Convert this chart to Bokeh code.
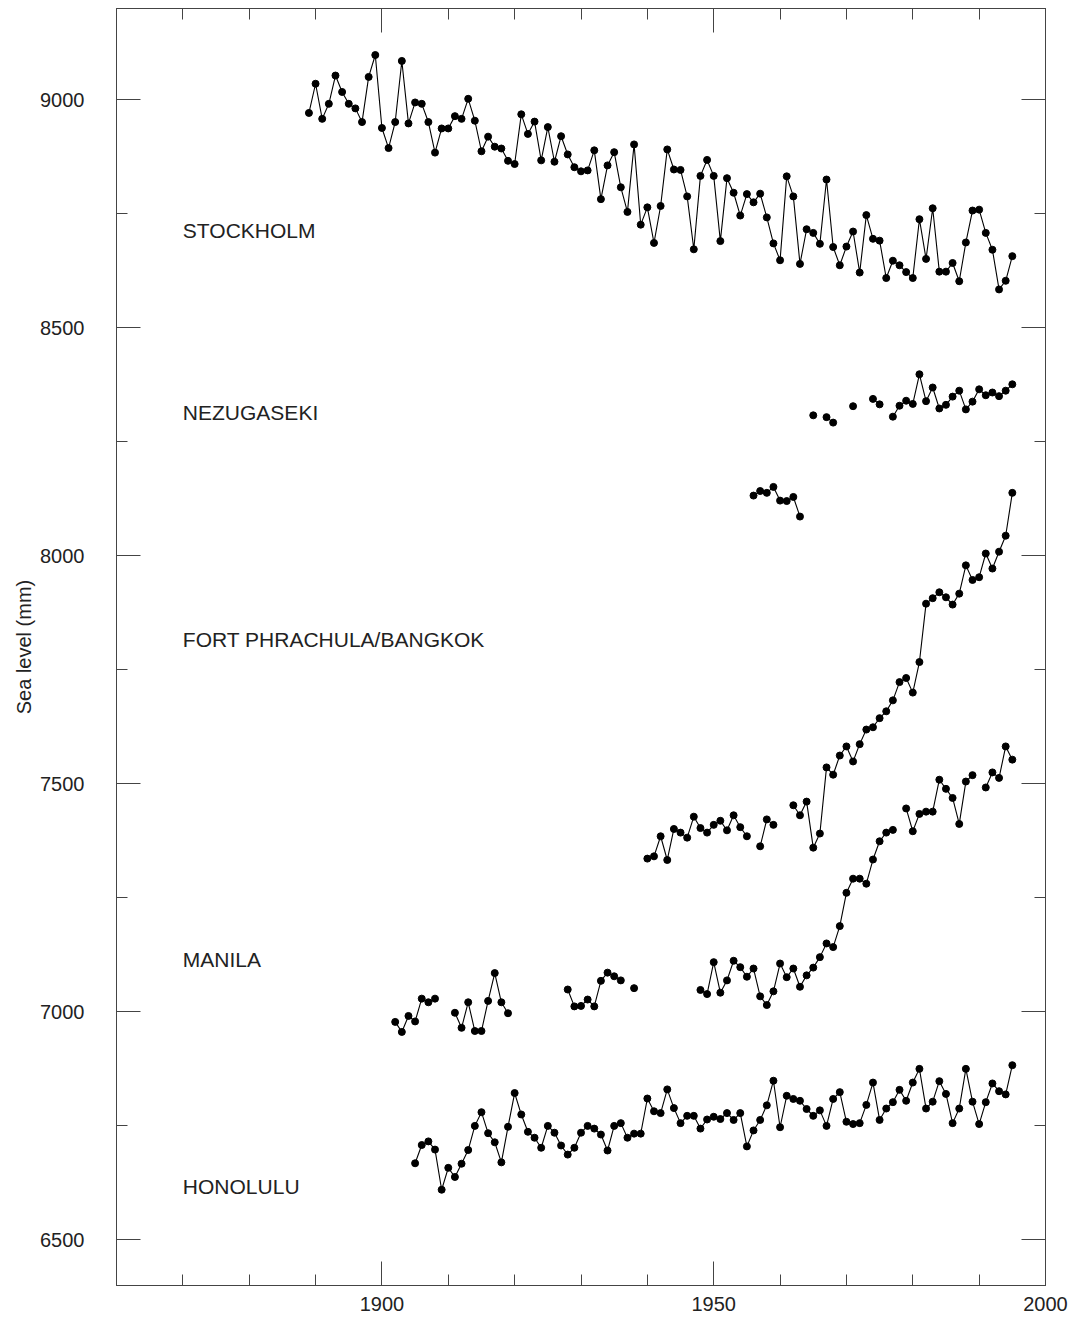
import math
from bokeh.plotting import figure
from bokeh.models import Range1d, LinearAxis, SingleIntervalTicker, ColumnDataSource
from bokeh.embed import file_html
from bokeh.resources import INLINE
from bokeh.core.properties import value

# ---------------- data (annual mean sea level, mm) ----------------
stockholm_start = 1889
stockholm_mm = [
    8971, 9035, 8958, 8991, 9053, 9017, 8991, 8981, 8951, 9050,
    9098, 8938, 8894, 8951, 9085, 8948, 8994, 8991, 8951, 8884,
    8937, 8937, 8964, 8958, 9002, 8954, 8887, 8919, 8897, 8893,
    8866, 8859, 8968, 8925, 8952, 8867, 8940, 8864, 8920, 8880,
    8852, 8843, 8845, 8889, 8782, 8856, 8885, 8808, 8754, 8902,
    8726, 8764, 8686, 8767, 8891, 8847, 8846, 8788, 8672, 8833,
    8868, 8833, 8690, 8828, 8796, 8746, 8793, 8775, 8794, 8742,
    8685, 8648, 8832, 8788, 8640, 8716, 8708, 8684, 8825, 8677,
    8637, 8678, 8711, 8621, 8747, 8695, 8691, 8609, 8647, 8637,
    8622, 8609, 8738, 8651, 8762, 8623, 8623, 8642, 8602, 8687,
    8757, 8759, 8708, 8671, 8584, 8603, 8657,
]

nezugaseki_start = 1965
nezugaseki_mm = [
    8308, None, 8304, 8292, None, None, 8328, None, None, 8344,
    8332, None, 8305, 8329, 8340, 8333, 8398, 8339, 8369, 8323,
    8331, 8349, 8362, 8321, 8338, 8365, 8352, 8358, 8350, 8362,
    8376,
]

fort_phrachula_start = 1956
fort_phrachula_mm = [8132, 8142, 8138, 8151, 8121, 8120, 8129, 8086]

bangkok_start = 1940
bangkok_mm = [
    7336, 7341, 7385, 7333, 7401, 7393, 7382, 7428, 7403, 7393,
    7410, 7419, 7398, 7431, 7405, 7385, None, 7363, 7422, 7410,
    None, None, 7453, 7431, 7461, 7360, 7391, 7536, 7520, 7562,
    7582, 7549, 7587, 7619, 7624, 7644, 7659, 7683, 7723, 7732,
    7700, 7767, 7895, 7907, 7920, 7909, 7893, 7917, 7979, 7947,
    7953, 8005, 7972, 8009, 8044, 8138,
]

manila_start = 1902
manila_mm = [
    6978, 6956, 6991, 6979, 7029, 7021, 7029, None, None, 6998,
    6965, 7021, 6958, 6958, 7024, 7085, 7021, 6997, None, None,
    None, None, None, None, None, None, 7049, 7012, 7013, 7027,
    7012, 7068, 7086, 7078, 7069, None, 7052, None, None, None,
    None, None, None, None, None, None, 7048, 7039, 7109, 7042,
    7069, 7112, 7098, 7077, 7095, 7034, 7015, 7045, 7106, 7076,
    7095, 7055, 7080, 7097, 7120, 7150, 7142, 7188, 7261, 7292,
    7292, 7281, 7334, 7374, 7393, 7399, None, 7446, 7396, 7434,
    7439, 7439, 7509, 7489, 7469, 7412, 7505, 7519, None, 7492,
    7525, 7513, 7582, 7553,
]

honolulu_start = 1905
honolulu_mm = [
    6668, 6708, 6716, 6698, 6610, 6658, 6638, 6667, 6697, 6750,
    6780, 6734, 6714, 6670, 6748, 6822, 6775, 6737, 6724, 6702,
    6750, 6735, 6707, 6687, 6702, 6735, 6750, 6744, 6731, 6696,
    6750, 6756, 6724, 6733, 6733, 6810, 6782, 6778, 6830, 6789,
    6756, 6772, 6772, 6744, 6764, 6770, 6765, 6778, 6763, 6778,
    6705, 6740, 6763, 6795, 6849, 6747, 6816, 6809, 6805, 6787,
    6772, 6784, 6750, 6809, 6824, 6759, 6754, 6756, 6796, 6845,
    6763, 6788, 6802, 6829, 6805, 6845, 6875, 6788, 6803, 6848,
    6820, 6756, 6788, 6875, 6803, 6754, 6802, 6843, 6826, 6819,
    6883,
]

station_names = ["STOCKHOLM", "NEZUGASEKI", "FORT PHRACHULA/BANGKOK", "MANILA", "HONOLULU"]
station_label_mm = [8713, 8315, 7816, 7115, 6616]
station_label_year = [1870, 1870, 1870, 1870, 1870]

# ---------------- figure ----------------
FONT = "Liberation Sans"
INK = "#222222"
AXC = "#444444"

p = figure(width=1086, height=1319,
           x_range=Range1d(1860, 2000), y_range=Range1d(6400, 9200),
           output_backend="svg", toolbar_location=None,
           min_border_left=116, min_border_right=41,
           min_border_top=8, min_border_bottom=34)
p.grid.visible = False
p.outline_line_color = AXC
p.background_fill_color = "white"
p.border_fill_color = "white"

def style_axis(ax, show_labels):
    ax.axis_line_color = AXC
    ax.major_tick_line_color = AXC
    ax.minor_tick_line_color = AXC
    ax.major_tick_in = 24
    ax.major_tick_out = 0
    ax.minor_tick_in = 11
    ax.minor_tick_out = 0
    ax.major_label_text_font = FONT
    if show_labels:
        ax.major_label_text_font_size = "20px"
        ax.major_label_text_color = INK
    else:
        ax.major_label_text_font_size = "0px"
        ax.major_label_text_color = None
        ax.major_label_standoff = 0

p.xaxis.ticker = SingleIntervalTicker(interval=50, num_minor_ticks=5)
p.yaxis.ticker = SingleIntervalTicker(interval=500, num_minor_ticks=2)
style_axis(p.xaxis[0], True)
style_axis(p.yaxis[0], True)
p.xaxis.major_label_standoff = 11
p.yaxis.major_label_standoff = 32
p.yaxis.axis_label = "Sea level (mm)"
p.yaxis.axis_label_text_font = FONT
p.yaxis.axis_label_text_font_size = "20px"
p.yaxis.axis_label_text_font_style = "normal"
p.yaxis.axis_label_text_color = INK
p.yaxis.axis_label_standoff = 2

top_ax = LinearAxis(ticker=SingleIntervalTicker(interval=50, num_minor_ticks=5))
style_axis(top_ax, False)
p.add_layout(top_ax, "above")
right_ax = LinearAxis(ticker=SingleIntervalTicker(interval=500, num_minor_ticks=2))
style_axis(right_ax, False)
p.add_layout(right_ax, "right")

def draw(start, vals):
    yrs = list(range(start, start + len(vals)))
    ys = [float("nan") if v is None else v for v in vals]
    src = ColumnDataSource(dict(x=yrs, y=ys))
    p.line("x", "y", source=src, line_color="black", line_width=1.1)
    p.scatter("x", "y", source=src, marker="circle", size=7,
              fill_color="black", line_color="black")

draw(stockholm_start, stockholm_mm)
draw(nezugaseki_start, nezugaseki_mm)
draw(fort_phrachula_start, fort_phrachula_mm)
draw(bangkok_start, bangkok_mm)
draw(manila_start, manila_mm)
draw(honolulu_start, honolulu_mm)

lab_src = ColumnDataSource(dict(x=station_label_year, y=station_label_mm, t=station_names))
p.text("x", "y", text="t", source=lab_src, text_font=value(FONT),
       text_font_size="21px", text_color=INK,
       text_align="left", text_baseline="middle")

open("out.html", "w").write(file_html(p, INLINE))
